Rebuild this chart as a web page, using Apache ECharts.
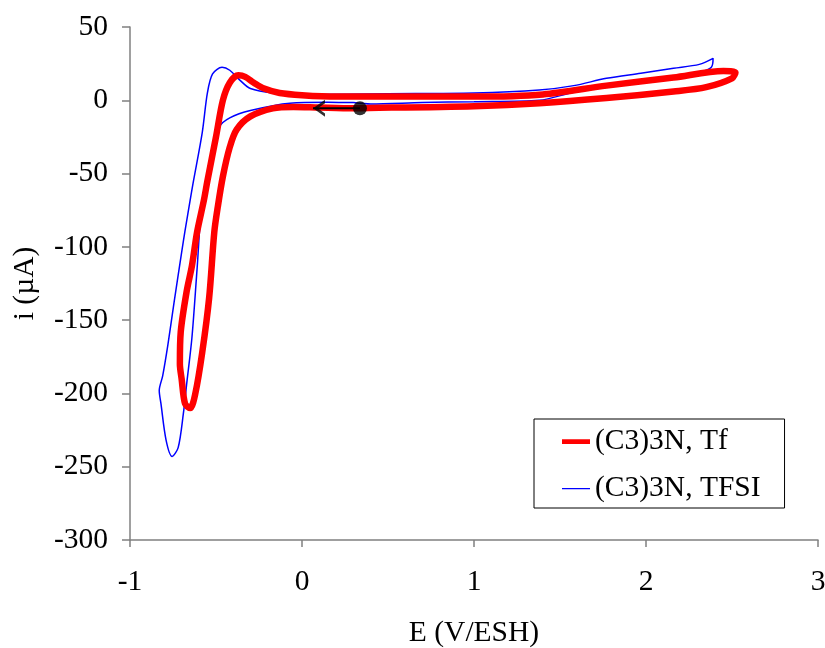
<!DOCTYPE html>
<html>
<head>
<meta charset="utf-8">
<script src="https://cdn.jsdelivr.net/npm/echarts@6/dist/echarts.min.js"></script>
<style>html,body{margin:0;padding:0;background:#fff;}#c{width:825px;height:648px;}</style>
</head>
<body>
<div id="c"></div>
<script>
// (C3)3N, Tf  — potential (V/ESH) and current (µA)
var tfE = [0.52, 0.30, 0.10, -0.05, -0.17, -0.30, -0.38, -0.42, -0.46, -0.49, -0.51, -0.54, -0.58, -0.62, -0.65, -0.68, -0.70, -0.71, -0.705, -0.67, -0.64, -0.61, -0.57, -0.55, -0.50, -0.46, -0.42, -0.37, -0.33, -0.28, -0.22, -0.13, 0.00, 0.20, 0.50, 1.00, 1.40, 1.77, 2.16, 2.45, 2.52, 2.50, 2.35, 2.16, 1.77, 1.38, 1.00, 0.52];
var tfI = [-5, -5.5, -5, -4.5, -5.5, -11, -20, -32, -52, -73, -90, -135, -172, -200, -210, -207, -190, -180, -158, -130, -113, -90, -68, -55, -25, 0, 12, 17, 16, 12, 8, 5, 3.5, 2.5, 2.5, 2.5, 4, 10, 15.5, 20, 19, 15, 9, 6, 1.5, -2, -4, -5];
// (C3)3N, TFSI
var tfsiE = [0.30, 0.15, -0.07, -0.30, -0.42, -0.48, -0.51, -0.53, -0.58, -0.61, -0.64, -0.67, -0.69, -0.72, -0.755, -0.79, -0.82, -0.83, -0.81, -0.78, -0.744, -0.70, -0.68, -0.65, -0.634, -0.58, -0.55, -0.52, -0.465, -0.42, -0.36, -0.30, -0.17, 0.03, 0.50, 1.00, 1.38, 1.58, 1.77, 1.97, 2.16, 2.31, 2.39, 2.38, 2.31, 2.16, 1.97, 1.77, 1.58, 1.38, 1.00, 0.70, 0.40, 0.30];
var tfsiI = [-1.5, -1.4, -2, -7, -12, -18, -30, -41, -68, -115, -162, -193, -214, -237, -243, -232, -207, -198, -188, -167, -138, -104, -89, -68, -57, -22, 5, 18, 22.5, 20.5, 13.6, 8, 5, 4, 4.5, 5, 7, 10, 15, 18.4, 21.8, 24.5, 28.6, 22.5, 19, 15.7, 12.3, 8.9, 5.5, 0, -1, -1.5, -2.5, -1.5];
// scan direction marker: start point (dot) -> arrow tip
var arrowE = [0.337, 0.064];
var arrowI = [-5.5, -5.5];
var xTicks = [-1, 0, 1, 2, 3];
var yTicks = [-300, -250, -200, -150, -100, -50, 0, 50];

function zip(a, b) { return a.map(function (v, i) { return [v, b[i]]; }); }
function fmt(v) { return String(v).replace('\u2212', '-'); }

var font = 'Liberation Serif';
var fs = 29.5;
var chart = echarts.init(document.getElementById('c'), null, { renderer: 'canvas' });
chart.setOption({
  animation: false,
  backgroundColor: '#fff',
  grid: { left: 130, right: 7, top: 27, bottom: 108, containLabel: false, outerBoundsMode: 'none' },
  xAxis: {
    type: 'value', min: xTicks[0], max: xTicks[xTicks.length - 1], interval: 1,
    name: 'E (V/ESH)', nameLocation: 'middle', nameGap: 78,
    nameTextStyle: { fontFamily: font, fontSize: fs, color: '#000' },
    axisLine: { onZero: false, lineStyle: { color: '#808080', width: 1.5 } },
    axisTick: { show: true, inside: false, length: 7, lineStyle: { color: '#808080', width: 1.5 } },
    axisLabel: { fontFamily: font, fontSize: fs, color: '#000', margin: 27, formatter: fmt, hideOverlap: false },
    splitLine: { show: false }
  },
  yAxis: {
    type: 'value', min: yTicks[0], max: yTicks[yTicks.length - 1], interval: 50,
    name: 'i (µA)', nameLocation: 'middle', nameGap: 90, nameRotate: 90,
    nameTextStyle: { fontFamily: font, fontSize: fs, color: '#000' },
    axisLine: { show: true, onZero: false, lineStyle: { color: '#808080', width: 1.5 } },
    axisTick: { show: true, inside: false, length: 8, lineStyle: { color: '#808080', width: 1.5 } },
    axisLabel: { fontFamily: font, fontSize: fs, color: '#000', margin: 22, formatter: fmt },
    splitLine: { show: false }
  },
  legend: {
    orient: 'vertical', left: 534, top: 419,
    data: [
      { name: '(C3)3N, Tf', icon: 'path://M0,0 L0.01,0 Z M0,4.8 L28,4.8 L28,9.6 L0,9.6 Z M0,14 L0.01,14 Z' },
      { name: '(C3)3N, TFSI', icon: 'path://M0,0 L0.01,0 Z M0,6.6 L28,6.6 L28,7.8 L0,7.8 Z M0,14 L0.01,14 Z' }
    ],
    itemWidth: 28, itemHeight: 14, itemGap: 17,
    padding: [7.5, 24, 4.5, 28],
    borderColor: '#000', borderWidth: 1, backgroundColor: '#fff',
    textStyle: { fontFamily: font, fontSize: fs, color: '#000' }
  },
  series: [
    {
      name: '(C3)3N, Tf', type: 'line', data: zip(tfE, tfI), z: 3,
      symbol: 'none', showSymbol: false, smooth: 0.3,
      lineStyle: { color: '#ff0000', width: 6.5, join: 'round', cap: 'round' },
      itemStyle: { color: '#ff0000' }
    },
    {
      name: '(C3)3N, TFSI', type: 'line', data: zip(tfsiE, tfsiI), z: 2,
      symbol: 'none', showSymbol: false, smooth: 0.3,
      lineStyle: { color: '#0000ff', width: 1.5 },
      itemStyle: { color: '#0000ff' }
    },
    {
      name: 'scan', type: 'line', data: zip(arrowE, arrowI), z: 5,
      symbol: 'none', silent: true,
      lineStyle: { color: '#000', width: 2 }
    },
    {
      name: 'scanStart', type: 'scatter', data: [[arrowE[0], arrowI[0]]], z: 6,
      symbol: 'circle', symbolSize: 14, silent: true,
      itemStyle: { color: '#000' }
    },
    {
      name: 'scanHead', type: 'scatter', data: [[arrowE[1] + 6 / 172, arrowI[1]]], z: 6,
      symbol: 'path://M0,12 L8,0 L16,12 L12.8,12 L8,4.8 L3.2,12 Z', symbolSize: [17, 12], symbolRotate: 90,
      silent: true, itemStyle: { color: '#000' }
    }
  ]
});
</script>
</body>
</html>
